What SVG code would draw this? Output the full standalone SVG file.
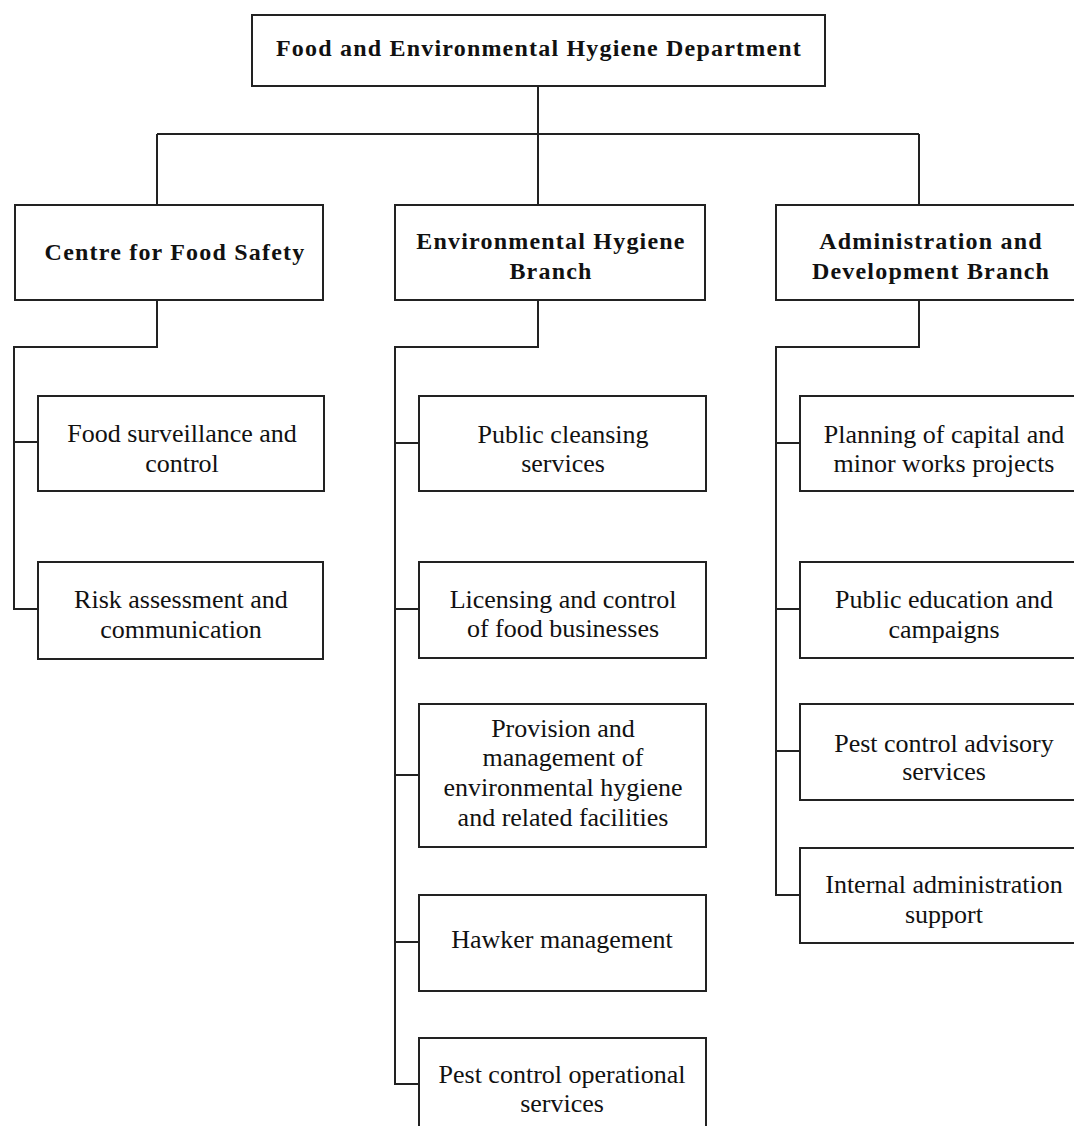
<svg xmlns="http://www.w3.org/2000/svg" width="1074" height="1126" viewBox="0 0 1074 1126">
<style>
.box{fill:#fff;stroke:#222;stroke-width:2}
.con{fill:none;stroke:#222;stroke-width:2}
.h{font-family:"Liberation Serif","Times New Roman",serif;font-weight:bold;font-size:24px;letter-spacing:1.2px;fill:#111;text-anchor:middle}
.t{font-family:"Liberation Serif","Times New Roman",serif;font-size:26px;fill:#111;text-anchor:middle}
</style>
<rect width="1074" height="1126" fill="#fff"/>
<g id="connectors">
<path class="con" d="M538 86V134M157 134H919M157 134V205M538 134V205M919 134V205"/>
<path class="con" d="M157 300V347H14V609H38M14 442H38"/>
<path class="con" d="M538 300V347H395V1084H419M395 443H419M395 609H419M395 775H419M395 942H419"/>
<path class="con" d="M919 300V347H776V895H800M776 443H800M776 609H800M776 751H800"/>
</g>
<g id="fehd"><rect class="box" x="252" y="15" width="573" height="71"/><text class="h" x="539" y="56">Food and Environmental Hygiene Department</text></g>
<g id="cfs"><rect class="box" x="15" y="205" width="308" height="95"/><text class="h" x="175" y="260">Centre for Food Safety</text></g>
<g id="ehb"><rect class="box" x="395" y="205" width="310" height="95"/><text class="h" x="551" y="249">Environmental Hygiene</text><text class="h" x="551" y="279">Branch</text></g>
<g id="adb"><rect class="box" x="776" y="205" width="312" height="95"/><text class="h" x="931" y="249">Administration and</text><text class="h" x="931" y="279">Development Branch</text></g>
<g id="fsc"><rect class="box" x="38" y="396" width="286" height="95"/><text class="t" x="182" y="442">Food surveillance and</text><text class="t" x="182" y="472">control</text></g>
<g id="rac"><rect class="box" x="38" y="562" width="285" height="97"/><text class="t" x="181" y="608">Risk assessment and</text><text class="t" x="181" y="638">communication</text></g>
<g id="pcs"><rect class="box" x="419" y="396" width="287" height="95"/><text class="t" x="563" y="443">Public cleansing</text><text class="t" x="563" y="472">services</text></g>
<g id="lcf"><rect class="box" x="419" y="562" width="287" height="96"/><text class="t" x="563" y="608">Licensing and control</text><text class="t" x="563" y="637">of food businesses</text></g>
<g id="pmf"><rect class="box" x="419" y="704" width="287" height="143"/><text class="t" x="563" y="737">Provision and</text><text class="t" x="563" y="766">management of</text><text class="t" x="563" y="796">environmental hygiene</text><text class="t" x="563" y="826">and related facilities</text></g>
<g id="hm"><rect class="box" x="419" y="895" width="287" height="96"/><text class="t" x="562" y="948">Hawker management</text></g>
<g id="pco"><rect class="box" x="419" y="1038" width="287" height="100"/><text class="t" x="562" y="1083">Pest control operational</text><text class="t" x="562" y="1112">services</text></g>
<g id="pcw"><rect class="box" x="800" y="396" width="290" height="95"/><text class="t" x="944" y="443">Planning of capital and</text><text class="t" x="944" y="472">minor works projects</text></g>
<g id="pec"><rect class="box" x="800" y="562" width="290" height="96"/><text class="t" x="944" y="608">Public education and</text><text class="t" x="944" y="638">campaigns</text></g>
<g id="pca"><rect class="box" x="800" y="704" width="290" height="96"/><text class="t" x="944" y="752">Pest control advisory</text><text class="t" x="944" y="780">services</text></g>
<g id="ias"><rect class="box" x="800" y="848" width="290" height="95"/><text class="t" x="944" y="893">Internal administration</text><text class="t" x="944" y="923">support</text></g>
</svg>
